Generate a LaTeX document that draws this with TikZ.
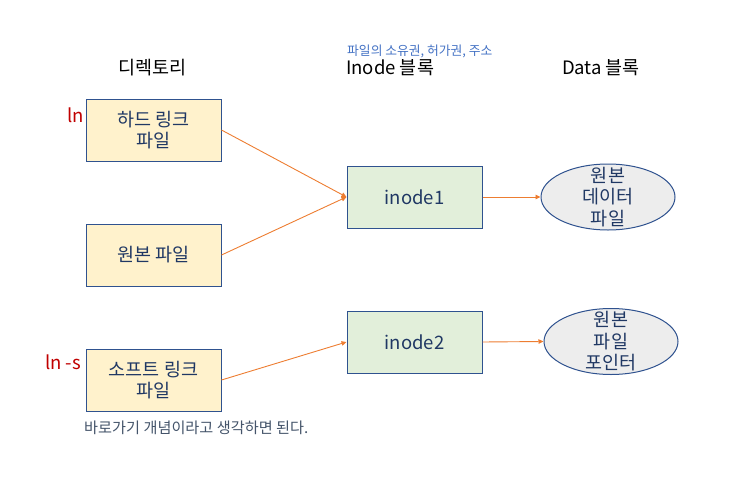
\documentclass[tikz,border=0pt]{standalone}
\usepackage{fontspec}
\setmainfont{Noto Sans CJK KR}
\usetikzlibrary{shapes.geometric,arrows.meta}

\definecolor{boxline}{HTML}{2F528F}
\definecolor{boxtext}{HTML}{203864}
\definecolor{dirfill}{HTML}{FFF2CC}
\definecolor{inofill}{HTML}{E2EFDA}
\definecolor{datfill}{HTML}{EDEDED}
\definecolor{linkline}{HTML}{ED7D31}
\definecolor{notetext}{HTML}{4472C4}
\definecolor{cmdtext}{HTML}{C00000}
\definecolor{hinttext}{HTML}{44546A}

\newcommand{\bodyfont}{\fontsize{18.5}{21.5}\selectfont}

\begin{document}
\begin{tikzpicture}[x=1pt,y=-1pt,
    dirbox/.style={rectangle,draw=boxline,line width=1pt,fill=dirfill,
      minimum width=135pt,minimum height=62pt,align=center,text=boxtext,font=\bodyfont},
    inobox/.style={dirbox,fill=inofill},
    datablob/.style={ellipse,draw=boxline,line width=1pt,fill=datfill,
      minimum width=134pt,minimum height=66pt,inner sep=0pt},
    blobtext/.style={align=center,text=boxtext,font=\bodyfont,inner sep=0pt},
    head/.style={font=\bodyfont,text=black,inner sep=0pt},
    note/.style={font=\fontsize{12.8}{15}\selectfont,text=notetext,inner sep=0pt},
    cmd/.style={font=\bodyfont,text=cmdtext,inner sep=0pt,anchor=east},
    link/.style={draw=linkline,line width=0.9pt,-{Triangle[length=5pt,width=4.5pt]}}]
    \useasboundingbox (0,0) rectangle (753,485);

    %% column headings
    \node[head] (hdir) at (152.5,68) {디렉토리};
    \node[head,anchor=west] (hino) at (346,68) {Inode 블록};
    \node[head] (hdat) at (601,68) {Data 블록};
    \node[note,anchor=west] (inonote) at (347,51) {파일의 소유권, 허가권, 주소};

    %% directory entries
    \node[dirbox] (hard) at (153.5,130) {하드 링크\\파일};
    \node[dirbox] (orig) at (153.5,255) {원본 파일};
    \node[dirbox] (soft) at (153.5,380) {소프트 링크\\파일};
    \node[cmd] (lnhard) at (84,115) {ln};
    \node[cmd] (lnsoft) at (81,362) {ln -s};
    \node[font=\fontsize{15.2}{18}\selectfont,text=hinttext,inner sep=0pt,anchor=west]
      (hint) at (84,428) {바로가기 개념이라고 생각하면 된다.};

    %% inodes
    \node[inobox] (ino1) at (414.5,197) {inode1};
    \node[inobox] (ino2) at (414.5,342) {inode2};

    %% data blocks
    \node[datablob] (dat1) at (608,197) {};
    \node[blobtext] (dat1txt) at (dat1) {원본\\데이터\\파일};
    \node[datablob] (dat2) at (611,341.5) {};
    \node[blobtext] (dat2txt) at (dat2) {원본\\파일\\포인터};

    %% links
    \draw[link] (hard.east) -- (ino1.west);
    \draw[link] (orig.east) -- (ino1.west);
    \draw[link] (soft.east) -- (ino2.west);
    \draw[link] (ino1.east) -- (dat1.west);
    \draw[link] (ino2.east) -- (dat2.west);
\end{tikzpicture}
\end{document}
